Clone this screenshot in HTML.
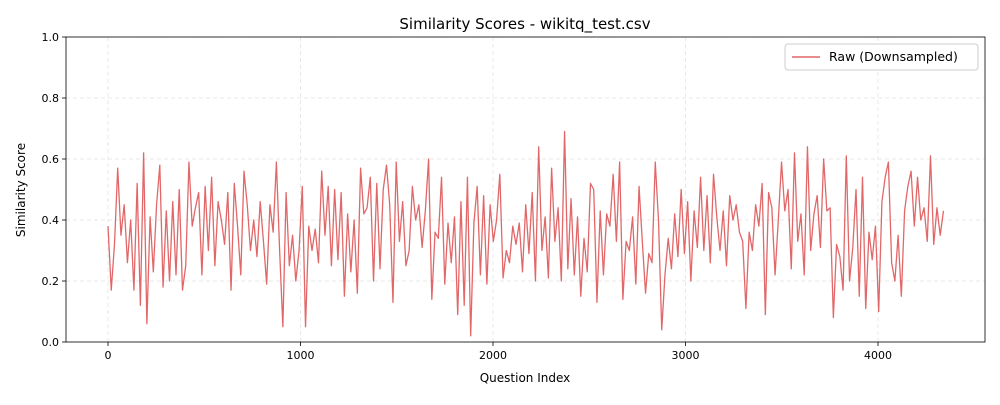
<!DOCTYPE html>
<html><head><meta charset="utf-8"><style>
body{margin:0;background:#fff;font-family:"Liberation Sans","DejaVu Sans",sans-serif}
svg text{font-family:"DejaVu Sans","Liberation Sans",sans-serif}
</style></head><body>
<svg id="chart" width="1000" height="400" xmlns="http://www.w3.org/2000/svg">
<rect width="1000" height="400" fill="#fff"/>
<g id="grid"></g><g id="axes"></g><g id="series"></g>
<text x="525" y="29" font-size="15" text-anchor="middle" fill="#000">Similarity Scores - wikitq_test.csv</text>
<text x="525" y="382" font-size="12" text-anchor="middle">Question Index</text>
<text transform="translate(25,190) rotate(-90)" font-size="12" text-anchor="middle">Similarity Score</text>
<g>
<rect x="785" y="44" width="193" height="26" rx="3" fill="#fff" stroke="#ccc"/>
<line x1="792" y1="57" x2="820" y2="57" stroke="#d62728" stroke-opacity="0.7" stroke-width="1.4"/>
<text x="829" y="61" font-size="12.5">Raw (Downsampled)</text>
</g>
</svg>
<script>
const xTicks=[0,1000,2000,3000,4000];
const yTicks=[0.0,0.2,0.4,0.6,0.8,1.0];
const scores=[0.38,0.17,0.32,0.57,0.35,0.45,0.26,0.40,0.17,0.52,0.12,0.62,0.06,0.41,0.23,0.45,0.58,0.18,0.43,0.20,0.46,0.22,0.50,0.17,0.25,0.59,0.38,0.44,0.49,0.22,0.51,0.30,0.54,0.25,0.46,0.40,0.32,0.49,0.17,0.52,0.38,0.22,0.56,0.45,0.30,0.40,0.28,0.46,0.33,0.19,0.45,0.36,0.59,0.30,0.05,0.49,0.25,0.35,0.20,0.30,0.51,0.05,0.38,0.30,0.37,0.26,0.56,0.35,0.51,0.25,0.50,0.27,0.49,0.15,0.42,0.23,0.40,0.16,0.57,0.42,0.44,0.54,0.20,0.52,0.24,0.50,0.58,0.45,0.13,0.59,0.33,0.46,0.25,0.30,0.51,0.40,0.45,0.31,0.43,0.60,0.14,0.36,0.34,0.54,0.19,0.39,0.26,0.41,0.09,0.46,0.12,0.54,0.02,0.39,0.51,0.22,0.48,0.19,0.45,0.33,0.40,0.55,0.21,0.30,0.26,0.38,0.32,0.39,0.23,0.45,0.29,0.49,0.20,0.64,0.30,0.41,0.21,0.57,0.33,0.44,0.20,0.69,0.24,0.47,0.22,0.41,0.15,0.34,0.23,0.52,0.50,0.13,0.43,0.22,0.42,0.38,0.55,0.33,0.59,0.14,0.33,0.30,0.41,0.19,0.51,0.33,0.16,0.29,0.26,0.59,0.40,0.04,0.22,0.34,0.24,0.42,0.28,0.50,0.29,0.46,0.20,0.43,0.31,0.54,0.30,0.48,0.26,0.55,0.41,0.30,0.43,0.25,0.48,0.40,0.45,0.36,0.33,0.11,0.36,0.30,0.45,0.38,0.52,0.09,0.49,0.44,0.22,0.40,0.59,0.43,0.50,0.24,0.62,0.33,0.42,0.22,0.64,0.30,0.42,0.48,0.31,0.60,0.43,0.44,0.08,0.32,0.28,0.17,0.61,0.20,0.31,0.50,0.15,0.54,0.11,0.36,0.27,0.38,0.10,0.46,0.54,0.59,0.26,0.20,0.35,0.15,0.43,0.51,0.56,0.38,0.54,0.40,0.44,0.33,0.61,0.32,0.44,0.35,0.43];
const lastIndex=4340;
const L=66,R=985,T=37,B=342;
const xs=v=>108+v*(770/4000);
const ys=v=>B-v*(B-T);
const NS="http://www.w3.org/2000/svg";
function mk(tag,attrs,parent){const e=document.createElementNS(NS,tag);for(const k in attrs)e.setAttribute(k,attrs[k]);parent.appendChild(e);return e;}
const grid=document.getElementById('grid'),axes=document.getElementById('axes'),series=document.getElementById('series');
xTicks.forEach(t=>{const x=xs(t);
 const g=mk('line',{x1:x,x2:x,y1:T,y2:B,stroke:'#e3e3e3','stroke-dasharray':'4,3','stroke-width':0.8},grid);
 
 
 mk('line',{x1:x,x2:x,y1:B,y2:B+4,stroke:'#000','stroke-width':0.8},axes);
 const tx=mk('text',{x:x,y:B+17,'font-size':11,'text-anchor':'middle'},axes);tx.textContent=t;
 
 
});
yTicks.forEach(t=>{const y=ys(t);
 const g=mk('line',{x1:L,x2:R,y1:y,y2:y,stroke:'#e3e3e3','stroke-dasharray':'4,3','stroke-width':0.8},grid);
 
 
 mk('line',{x1:L-4,x2:L,y1:y,y2:y,stroke:'#000','stroke-width':0.8},axes);
 const tx=mk('text',{x:L-7,y:y+4,'font-size':11,'text-anchor':'end'},axes);tx.textContent=t.toFixed(1);
 
 
});
const frame=mk('rect',{x:L,y:T,width:R-L,height:B-T,fill:'none',stroke:'#000','stroke-width':0.8},axes);


const step=lastIndex/(scores.length-1);
const d=scores.map((v,i)=>(i?'L':'M')+xs(i*step).toFixed(2)+','+ys(v).toFixed(2)).join('');
const p=mk('path',{d:d,fill:'none',stroke:'#d62728','stroke-opacity':0.7,'stroke-width':1.3,'stroke-linejoin':'round'},series);


</script>
</body></html>
